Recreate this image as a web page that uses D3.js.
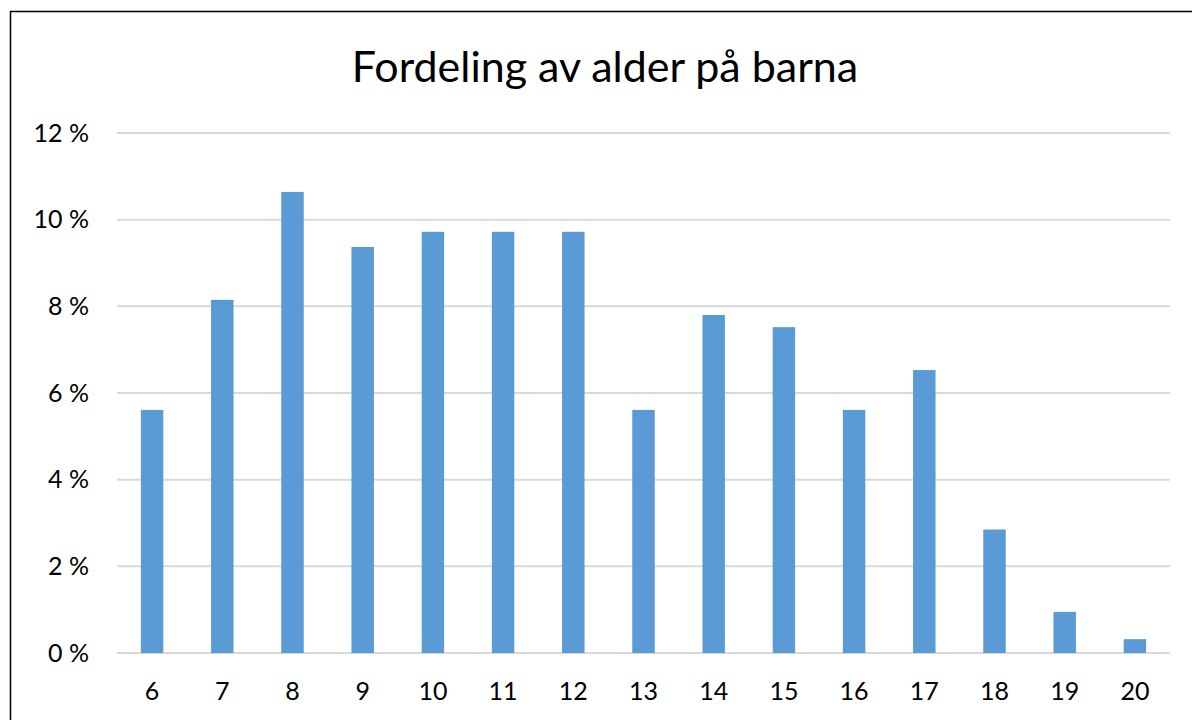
<!DOCTYPE html>
<html>
<head>
<meta charset="utf-8">
<script src="https://cdn.jsdelivr.net/npm/d3@7"></script>
<style>
  html, body { margin: 0; padding: 0; background: #fff; }
  svg { display: block; }
</style>
</head>
<body>
<div id="chart"></div>
<script>
// ages on the x axis, share of children in percent
const ages = ["6", "7", "8", "9", "10", "11", "12", "13", "14", "15", "16", "17", "18", "19", "20"];
const shares = [5.61, 8.15, 10.64, 9.37, 9.72, 9.72, 9.72, 5.61, 7.80, 7.52, 5.61, 6.53, 2.85, 0.95, 0.32];
const yTicks = [0, 2, 4, 6, 8, 10, 12];
const title = "Fordeling av alder på barna";

const width = 1192, height = 720;
const margin = { left: 117, right: 22, top: 133, bottom: 67 };
const font = "Lato, 'Open Sans', sans-serif";

const svg = d3.select("#chart").append("svg")
  .attr("width", width)
  .attr("height", height);

svg.append("rect").attr("width", width).attr("height", height).attr("fill", "#fff");

// chart area frame (only left and top edge visible)
svg.append("path")
  .attr("d", `M10.5,${height} V11.5 H${width}`)
  .attr("fill", "none")
  .attr("stroke", "#000")
  .attr("stroke-width", 1.5);

const x = d3.scaleBand()
  .domain(ages)
  .range([margin.left, width - margin.right])
  .paddingInner(0.68)
  .paddingOuter(0.34);

const y = d3.scaleLinear()
  .domain([0, 12])
  .range([height - margin.bottom, margin.top]);

// gridlines
svg.append("g")
  .selectAll("line")
  .data(yTicks)
  .join("line")
  .attr("x1", margin.left).attr("x2", width - margin.right)
  .attr("y1", d => y(d)).attr("y2", d => y(d))
  .attr("stroke", "#d9d9d9")
  .attr("stroke-width", 2);

// bars
svg.append("g")
  .selectAll("rect")
  .data(ages)
  .join("rect")
  .attr("x", d => x(d))
  .attr("width", x.bandwidth())
  .attr("y", (d, i) => y(shares[i]))
  .attr("height", (d, i) => y(0) - y(shares[i]))
  .attr("fill", "#5b9bd5");

// y axis labels
const yAxis = d3.axisLeft(y).tickValues(yTicks).tickSize(0).tickPadding(0)
  .tickFormat(d => d + " %");
svg.append("g")
  .attr("transform", "translate(89,0)")
  .call(yAxis)
  .call(g => g.select(".domain").remove())
  .selectAll("text")
  .attr("font-family", font)
  .attr("font-size", 25)
  .attr("fill", "#000");

// x axis labels
const xAxis = d3.axisBottom(x).tickSize(0).tickPadding(0);
svg.append("g")
  .attr("transform", `translate(0,${y(0)})`)
  .call(xAxis)
  .call(g => g.select(".domain").remove())
  .selectAll("text")
  .attr("dy", null)
  .attr("y", 47)
  .attr("font-family", font)
  .attr("font-size", 25)
  .attr("fill", "#000");

// title
svg.append("text")
  .attr("x", 605)
  .attr("y", 82)
  .attr("text-anchor", "middle")
  .attr("font-family", font)
  .attr("font-size", 43)
  .attr("fill", "#000")
  .text(title);
</script>
</body>
</html>
